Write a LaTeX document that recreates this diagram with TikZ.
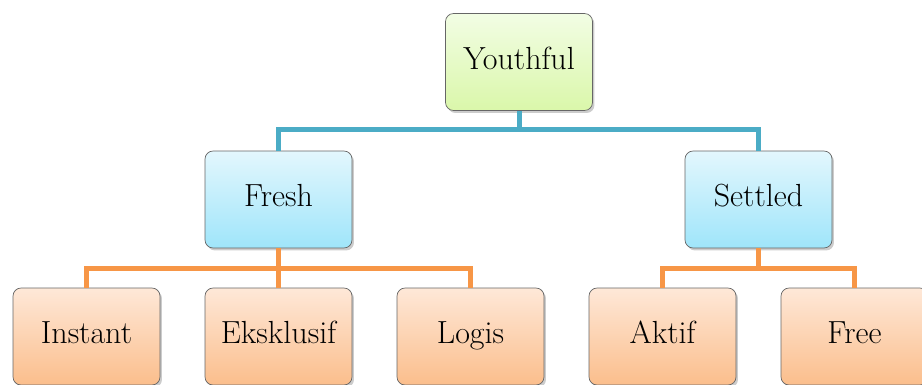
\documentclass[tikz,border=0pt]{standalone}
\usetikzlibrary{positioning,shadows}
\definecolor{linkblue}{HTML}{4BACC6}
\definecolor{linkorange}{HTML}{F79646}
\definecolor{greentop}{HTML}{F2FDE4}
\definecolor{greenbot}{HTML}{DAF7AA}
\definecolor{bluetop}{HTML}{E3F7FD}
\definecolor{bluebot}{HTML}{9FE5FA}
\definecolor{orangetop}{HTML}{FEE8D8}
\definecolor{orangebot}{HTML}{FBBE8C}

\begin{document}
\begin{tikzpicture}[x=0.02cm,y=-0.02cm,
	box/.style={draw=black!60,rounded corners=0.16cm,minimum width=2.94cm,minimum height=1.94cm,
		font=\rmfamily\fontsize{18.2}{20}\selectfont,
		drop shadow={shadow xshift=0.04cm,shadow yshift=-0.05cm,opacity=0.4}},
	topbox/.style={box,top color=greentop,bottom color=greenbot},
	midbox/.style={box,top color=bluetop,bottom color=bluebot},
	lowbox/.style={box,top color=orangetop,bottom color=orangebot},
	blueline/.style={line width=0.1cm,linkblue},
	orangeline/.style={line width=0.1cm,linkorange}]
				\useasboundingbox (0,0) rectangle (922,385);
				\node[topbox] (youthful) at (519,62) {\strut Youthful};
				\node[midbox] (fresh) at (278.5,199.5) {\strut Fresh};
				\node[midbox] (settled) at (758.5,199.5) {\strut Settled};
				\foreach \n/\t/\x in {instant/Instant/86.5,eksklusif/Eksklusif/278.5,logis/Logis/470.5,aktif/Aktif/662.5,free/Free/854.5}
				\node[lowbox] (\n) at (\x,336.5) {\strut\t};
				\foreach \c in {fresh,settled}
				\draw[blueline] (youthful.south) -- ++(0,19) -| (\c.north);
				\foreach \c in {instant,eksklusif,logis}
				\draw[orangeline] (fresh.south) -- ++(0,20) -| (\c.north);
				\foreach \c in {aktif,free}
				\draw[orangeline] (settled.south) -- ++(0,20) -| (\c.north);
				\end{tikzpicture}
\end{document}
